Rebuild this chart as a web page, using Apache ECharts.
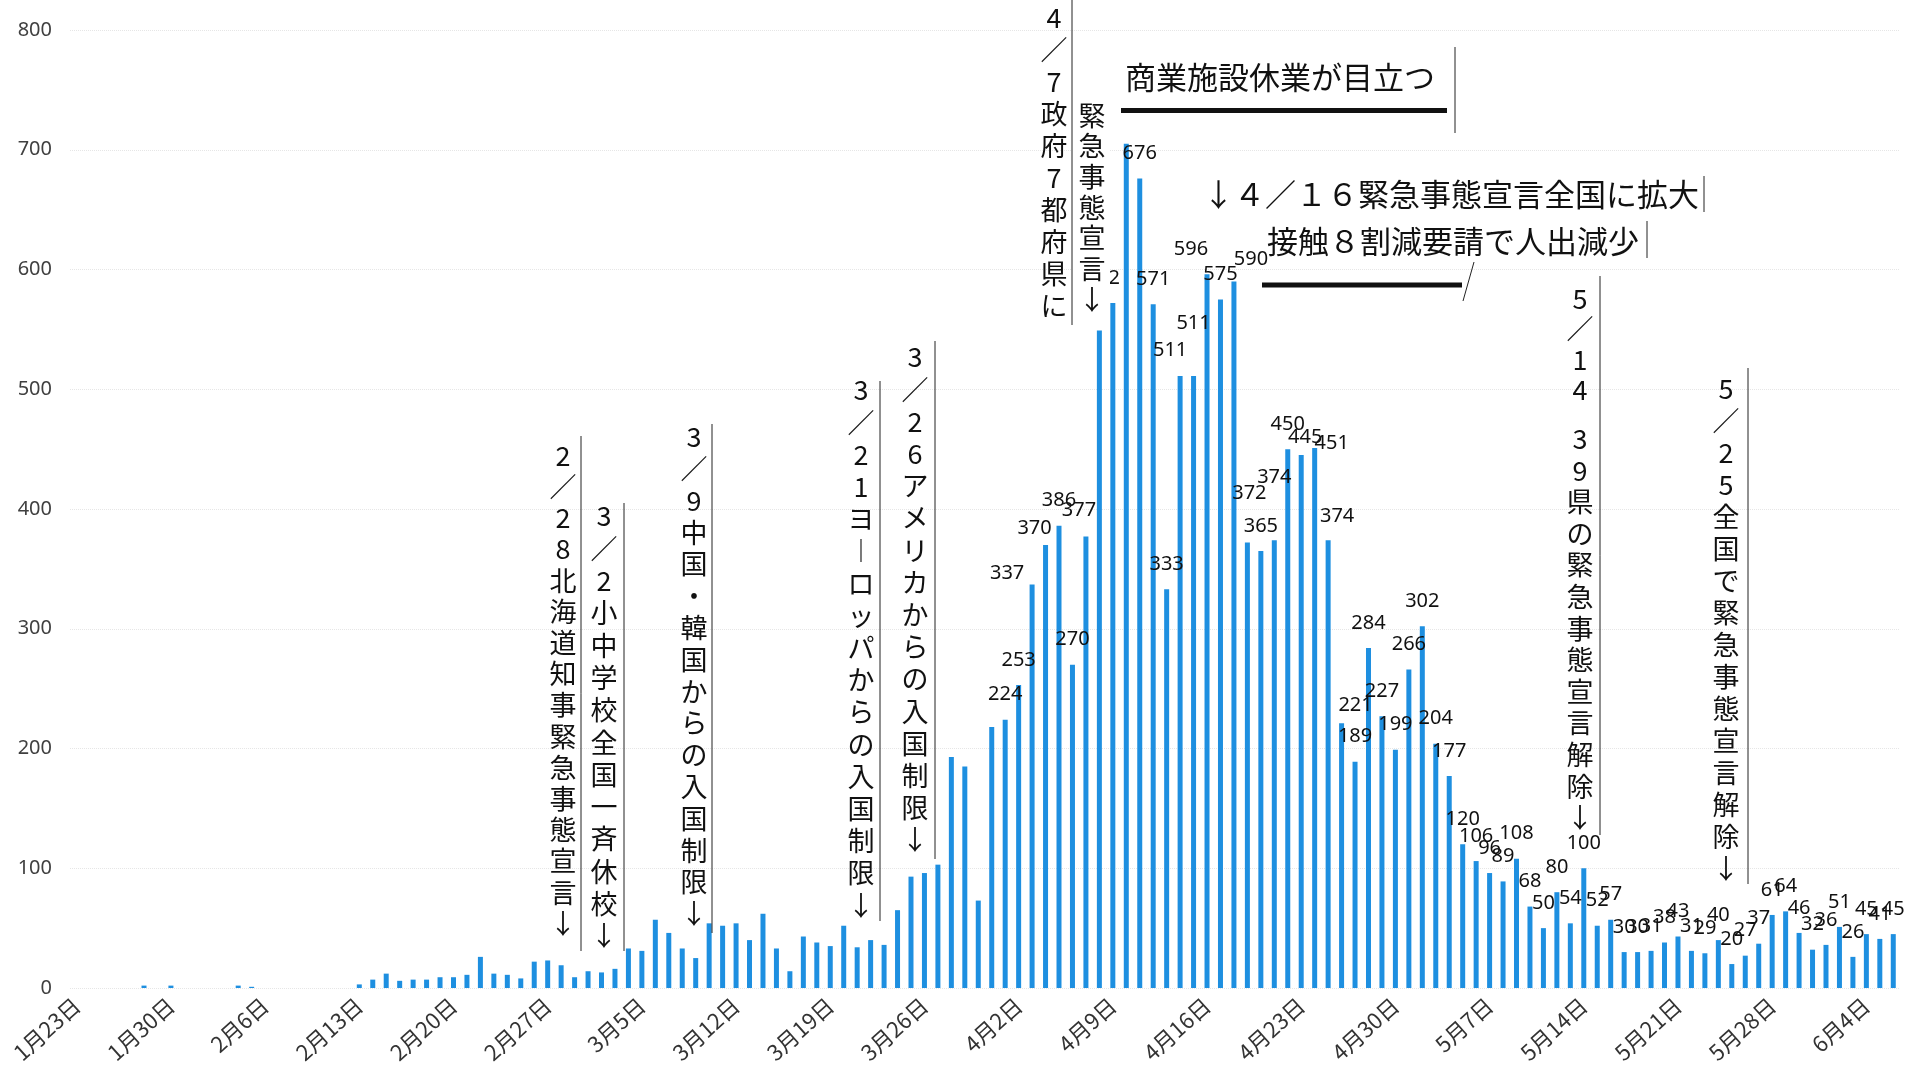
<!DOCTYPE html>
<html><head><meta charset="utf-8">
<script src="https://cdn.jsdelivr.net/npm/echarts@6/dist/echarts.min.js"></script>
<style>html,body{margin:0;padding:0;background:#fff}#c{width:1915px;height:1080px}</style>
</head><body><div id="c"></div><script>
// Dates 1/23 .. 6/6
const categories = [
 '1月23日','1月24日','1月25日','1月26日','1月27日','1月28日','1月29日','1月30日','1月31日',
 '2月1日','2月2日','2月3日','2月4日','2月5日','2月6日','2月7日','2月8日','2月9日','2月10日','2月11日','2月12日','2月13日','2月14日','2月15日','2月16日','2月17日','2月18日','2月19日','2月20日','2月21日','2月22日','2月23日','2月24日','2月25日','2月26日','2月27日','2月28日','2月29日',
 '3月1日','3月2日','3月3日','3月4日','3月5日','3月6日','3月7日','3月8日','3月9日','3月10日','3月11日','3月12日','3月13日','3月14日','3月15日','3月16日','3月17日','3月18日','3月19日','3月20日','3月21日','3月22日','3月23日','3月24日','3月25日','3月26日','3月27日','3月28日','3月29日','3月30日','3月31日',
 '4月1日','4月2日','4月3日','4月4日','4月5日','4月6日','4月7日','4月8日','4月9日','4月10日','4月11日','4月12日','4月13日','4月14日','4月15日','4月16日','4月17日','4月18日','4月19日','4月20日','4月21日','4月22日','4月23日','4月24日','4月25日','4月26日','4月27日','4月28日','4月29日','4月30日',
 '5月1日','5月2日','5月3日','5月4日','5月5日','5月6日','5月7日','5月8日','5月9日','5月10日','5月11日','5月12日','5月13日','5月14日','5月15日','5月16日','5月17日','5月18日','5月19日','5月20日','5月21日','5月22日','5月23日','5月24日','5月25日','5月26日','5月27日','5月28日','5月29日','5月30日','5月31日',
 '6月1日','6月2日','6月3日','6月4日','6月5日','6月6日'
];
const janValues = [0,0,0,0,0,2,0,2,0];
const febValues = [0,0,0,2,1,0,0,0,0,0,0,0,3,7,12,6,7,7,9,9,11,26,12,11,8,22,23,19,9];
const marValues = [14,13,16,33,31,57,46,33,25,54,52,54,40,62,33,14,43,38,35,52,34,40,36,65,93,96,103,193,185,73,218];
const aprValues = [224,253,337,370,386,270,377,549,572,705,676,571,333,511,511,596,575,590,372,365,374,450,445,451,374,221,189,284,227,199];
const mayValues = [266,302,204,177,120,106,96,89,108,68,50,80,54,100,52,57,30,30,31,38,43,31,29,40,20,27,37,61,64,46,32];
const junValues = [36,51,26,45,41,45];
const yTicks = [0,100,200,300,400,500,600,700,800];
const firstLabeledDate = '4月1日';

// hand-placed label shifts (px) as in the original
const labelNudges = {
  '4月3日':[-25,14], '4月4日':[-11,8], '4月7日':[-7,-1], '4月8日':[-8,0], '4月9日':[-10,0],
  '4月14日':[-10,-1], '4月15日':[0,-28], '4月16日':[-16,0], '4月18日':[17,3], '4月19日':[2,-24],
  '4月21日':[0,-38], '4月23日':[4,7], '4月24日':[17,20], '4月25日':[9,1], '4月26日':[14,7]
};

const values = [].concat(janValues, febValues, marValues, aprValues, mayValues, junValues);
const firstLabeled = categories.indexOf(firstLabeledDate);
const seriesData = values.map(function(v, i){
  const n = labelNudges[categories[i]];
  return n ? {value: v, label: {offset: n}} : v;
});

const JP = '"Noto Sans CJK JP"';
const INK = '#111';

function vcol(text, cx, top, lh) {
  return {type:'text', z:100, x:cx, y:top,
    style:{text: Array.from(text).join('\n'), font:'27px ' + JP, fill:INK,
      textAlign:'center', verticalAlign:'top', textVerticalAlign:'top', lineHeight:lh}};
}
function vline(x, y1, y2, w) {
  return {type:'line', z:100, shape:{x1:x, y1:y1, x2:x, y2:y2}, style:{stroke:'#222', lineWidth:w||1}};
}
function hline(x1, x2, y, w) {
  return {type:'line', z:100, shape:{x1:x1, y1:y, x2:x2, y2:y}, style:{stroke:'#111', lineWidth:w||1}};
}
function htext(text, x, cy) {
  return {type:'text', z:100, x:x, y:cy,
    style:{text:text, font:'31px ' + JP, fill:INK, textAlign:'left', verticalAlign:'middle', textVerticalAlign:'middle'}};
}
function wbox(x, y, w, h) {
  return {type:'rect', z:99, shape:{x:x, y:y, width:w, height:h}, style:{fill:'#fff'}};
}

const graphics = [
  wbox(1072, 45, 38, 283),
  wbox(1106, 45, 351, 97),
  vcol('2／28北海道知事緊急事態宣言↓', 563, 440, 31.2), vline(581, 436, 951),
  vcol('3／2小中学校全国一斉休校↓', 604, 500, 32.3), vline(624, 503, 951),
  vcol('3／9中国・韓国からの入国制限↓', 694, 421, 31.8), vline(712, 424, 933),
  vcol('3／21ヨ\uFE31ロッパからの入国制限↓', 861, 374, 32.2), vline(880, 381, 921),
  vcol('3／26アメリカからの入国制限↓', 915, 341, 32.2), vline(935, 341, 859),
  vcol('4／7政府7都府県に', 1054, 2, 32), vline(1072, 0, 325),
  vcol('緊急事態宣言↓', 1092, 100, 30.7),
  vcol('5／14', 1580, 283, 30.5),
  vcol('39県の緊急事態宣言解除↓', 1580, 423, 31.6), vline(1600, 276, 835),
  vcol('5／25全国で緊急事態宣言解除↓', 1726, 373, 32), vline(1748, 368, 884),
  htext('商業施設休業が目立つ', 1125, 77), hline(1121, 1447, 110.5, 5), vline(1455, 47, 133),
  htext('↓４／１６緊急事態宣言全国に拡大', 1203, 194), vline(1704, 176, 212),
  htext('接触８割減要請で人出減少', 1267, 241), vline(1647, 221, 258),
  hline(1262, 1462, 285, 5),
  {type:'line', z:100, shape:{x1:1463, y1:301, x2:1474, y2:262}, style:{stroke:'#222', lineWidth:1}}
];

const chart = echarts.init(document.getElementById('c'));
chart.setOption({
  animation:false,
  backgroundColor:'#fff',
  grid:{left:70, right:15, top:30, bottom:92, containLabel:false},
  xAxis:{type:'category', data:categories, boundaryGap:true,
    axisLine:{show:false}, axisTick:{show:false},
    axisLabel:{interval:6, rotate:42, fontSize:22, color:'#333', fontFamily:JP, margin:14}},
  yAxis:{type:'value', min:yTicks[0], max:yTicks[yTicks.length-1], interval:yTicks[1]-yTicks[0],
    axisLine:{show:false}, axisTick:{show:false},
    axisLabel:{fontSize:20, color:'#404040', fontFamily:'"Noto Sans"', margin:18},
    splitLine:{show:true, lineStyle:{color:'#e6e6e6', type:'dotted', width:1}}},
  series:[{type:'bar', data:seriesData, barWidth:5, itemStyle:{color:'#1e8fe0'},
    label:{show:true, position:'top', distance:15, fontSize:20, color:'#111', fontFamily:'"Noto Sans"',
      formatter:function(p){return p.dataIndex >= firstLabeled ? String(p.value) : '';}}}],
  graphic:graphics
});
</script></body></html>
